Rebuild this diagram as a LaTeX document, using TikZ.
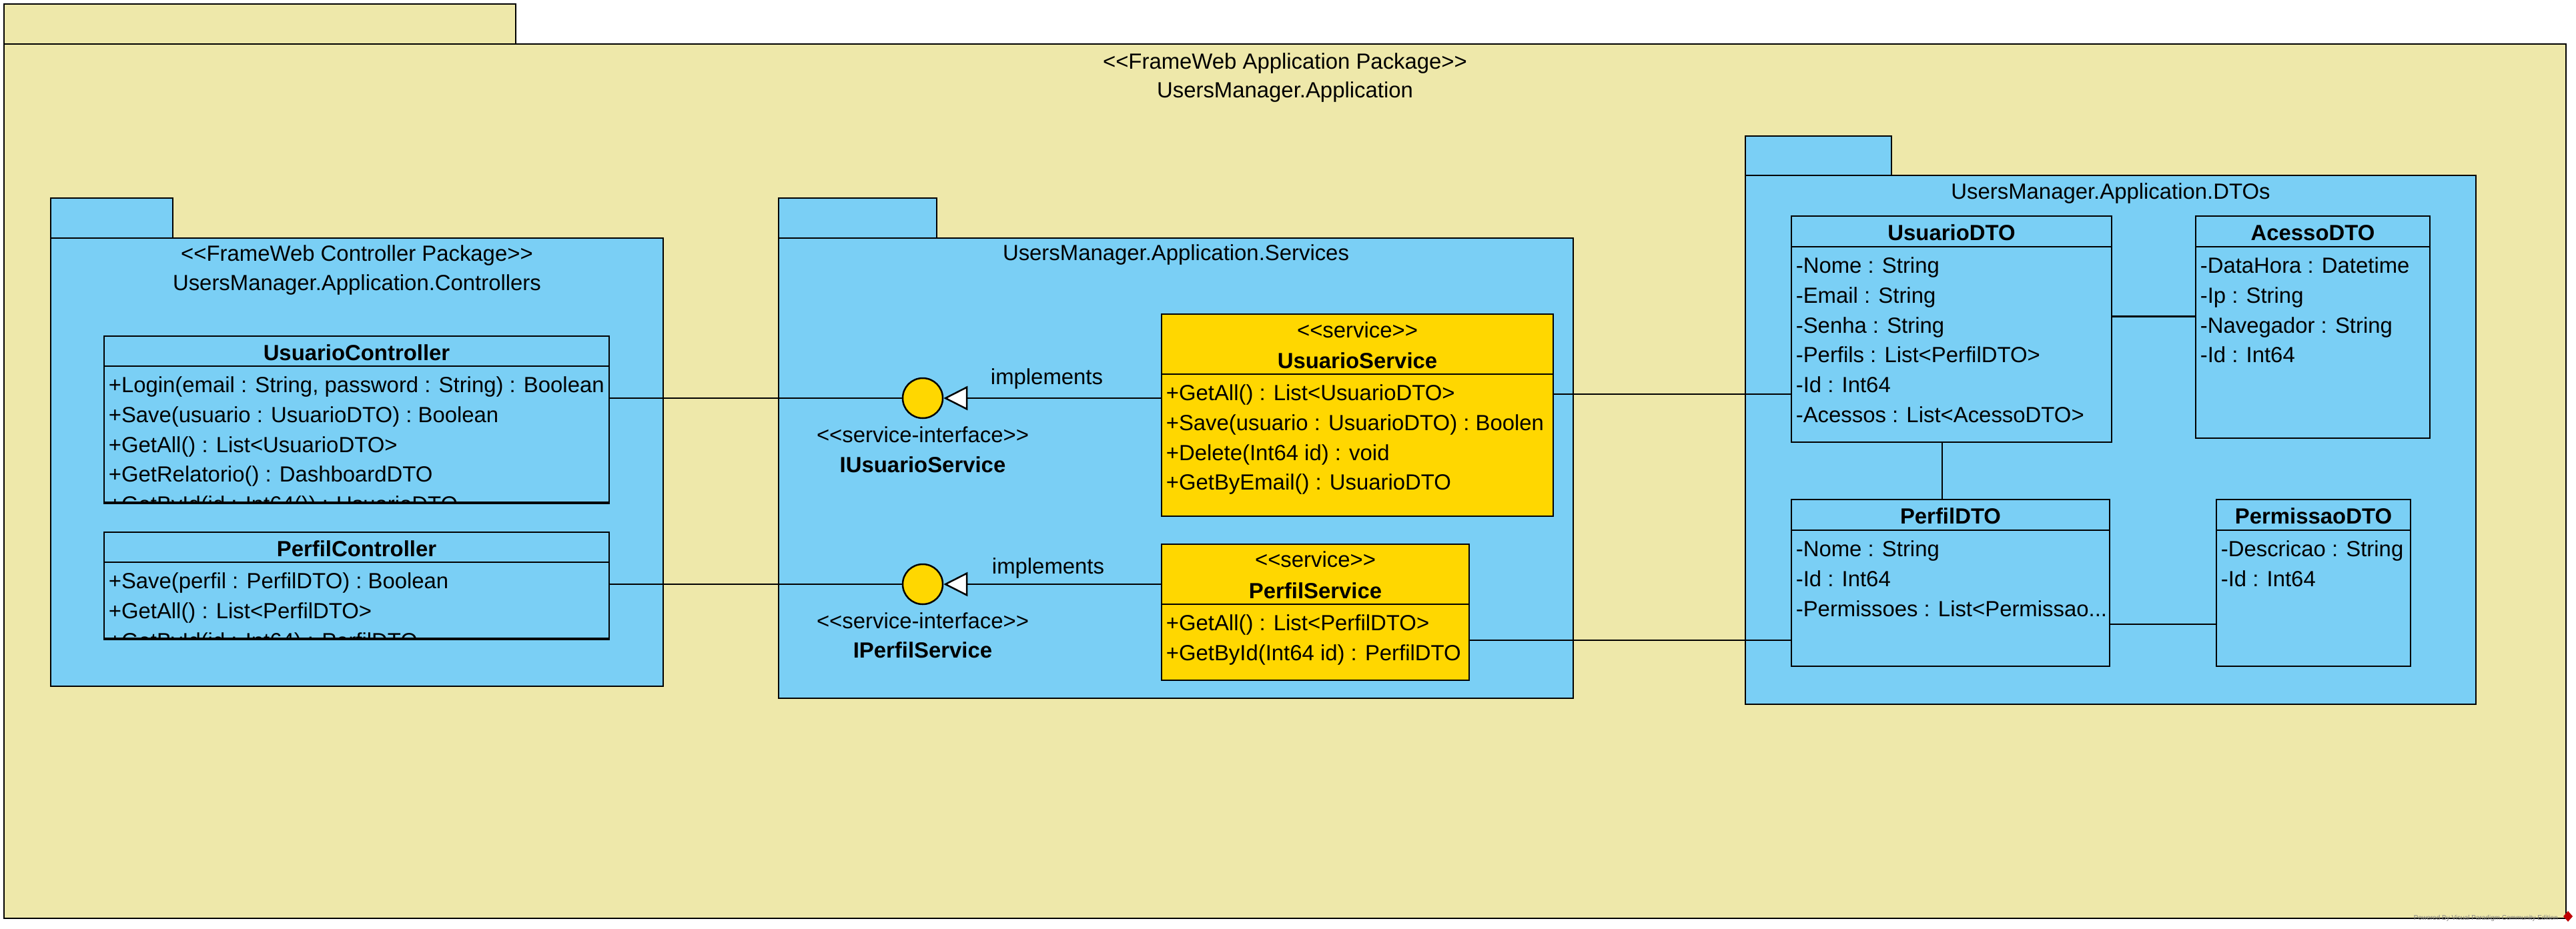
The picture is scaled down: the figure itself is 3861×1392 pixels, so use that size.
\documentclass[tikz,border=0pt]{standalone}
\usepackage{fontspec}
\newfontfamily\vpf{Liberation Sans}
\usetikzlibrary{fit,arrows.meta}
\definecolor{pkgback}{RGB}{238,232,170}
\definecolor{pkgblue}{RGB}{122,207,245}
\definecolor{svc}{RGB}{255,215,0}
\tikzset{
  ln/.style={line width=0.625pt},
  outerpkg/.style={draw, ln, fill=pkgback, inner sep=0pt},
  bluepkg/.style={draw, ln, fill=pkgblue, inner sep=0pt},
  clsbox/.style={draw, ln, fill=pkgblue, inner sep=0pt},
  svcbox/.style={draw, ln, fill=svc, inner sep=0pt},
  txt/.style={inner sep=0pt, font=\vpf\fontsize{8.22pt}{11.2pt}\selectfont},
  mem/.style={txt, anchor=base west},
  ctr/.style={txt, anchor=base},
  bname/.style={txt, anchor=base, font=\vpf\fontsize{8.22pt}{11.2pt}\selectfont\bfseries},
  iface/.style={circle, draw, ln, fill=svc, inner sep=0pt, minimum size=15pt},
  conn/.style={draw, ln},
  realize/.style={draw, ln, -{Triangle[length=9pt, width=9pt, fill=white]}},
}
\newcommand\memberlist[4]{%
  \foreach \t [count=\i from 0] in {#4} {\node[mem] (#1-m\i) at (#2, {#3+44.8*\i}) {\t};}}
\begin{document}
\begin{tikzpicture}[x=0.25pt, y=-0.25pt]
\useasboundingbox (0,0) rectangle (3861,1392);
\fill[white] (0,0) rectangle (3861,1392);

% ---------- outer application package ----------
\node[outerpkg, fit={(6,6) (773,66)}] (apptab) {};
\node[outerpkg, fit={(6,66) (3846,1377)}] (app) {};
\node[ctr] (appst) at (1926,103.5) {<<FrameWeb Application Package>>};
\node[ctr] (appname) at (1926,146) {UsersManager.Application};

% ---------- controllers package ----------
\node[bluepkg, fit={(76,297) (259,357)}] (ctrltab) {};
\node[bluepkg, fit={(76,357) (994,1029)}] (ctrl) {};
\node[ctr] (ctrlst) at (535,391.5) {<<FrameWeb Controller Package>>};
\node[ctr] (ctrlname) at (535,435.5) {UsersManager.Application.Controllers};

% UsuarioController
\node[clsbox, fit={(156,504) (913,753)}] (uc) {};
\draw[ln] (uc.west |- 0,549) -- (uc.east |- 0,549);
\node[bname] (ucn) at (534.5,540) {UsuarioController};
\memberlist{uc}{162}{588.5}{{+Login(email : String, password : String) : Boolean},{+Save(usuario : UsuarioDTO) : Boolean},{+GetAll() : List<UsuarioDTO>},{+GetRelatorio() : DashboardDTO}}
\begin{scope}
  \clip (156,549) rectangle (913,753);
  \node[mem] (uc-m4) at (162,767.7) {+GetById(id : Int64()) : UsuarioDTO};
\end{scope}
\draw[ln] (uc.south west) -- (uc.south east);

% PerfilController
\node[clsbox, fit={(156,798) (913,957)}] (pc) {};
\draw[ln] (pc.west |- 0,843) -- (pc.east |- 0,843);
\node[bname] (pcn) at (534.5,834) {PerfilController};
\memberlist{pc}{162}{882.5}{{+Save(perfil : PerfilDTO) : Boolean},{+GetAll() : List<PerfilDTO>}}
\begin{scope}
  \clip (156,843) rectangle (913,957);
  \node[mem] (pc-m2) at (162,972.1) {+GetById(id : Int64) : PerfilDTO};
\end{scope}
\draw[ln] (pc.south west) -- (pc.south east);

% ---------- services package ----------
\node[bluepkg, fit={(1167,297) (1404,357)}] (svctab) {};
\node[bluepkg, fit={(1167,357) (2358,1047)}] (svcpkg) {};
\node[ctr] (svcname) at (1762.5,390.5) {UsersManager.Application.Services};

% UsuarioService
\node[svcbox, fit={(1741,471) (2328,774)}] (us) {};
\draw[ln] (us.west |- 0,561) -- (us.east |- 0,561);
\node[ctr] (usst) at (2034.5,506) {<<service>>};
\node[bname] (usn) at (2034.5,552) {UsuarioService};
\memberlist{us}{1747}{600.5}{{+GetAll() : List<UsuarioDTO>},{+Save(usuario : UsuarioDTO) : Boolen},{+Delete(Int64 id) : void},{+GetByEmail() : UsuarioDTO}}

% PerfilService
\node[svcbox, fit={(1741,816) (2202,1020)}] (ps) {};
\draw[ln] (ps.west |- 0,906) -- (ps.east |- 0,906);
\node[ctr] (psst) at (1971.5,850.5) {<<service>>};
\node[bname] (psn) at (1971.5,897) {PerfilService};
\memberlist{ps}{1747}{945.5}{{+GetAll() : List<PerfilDTO>},{+GetById(Int64 id) : PerfilDTO}}

% interfaces
\node[iface] (i1) at (1383,597) {};
\node[ctr] (i1st) at (1383,663) {<<service-interface>>};
\node[bname] (i1n) at (1383,708) {IUsuarioService};
\node[iface] (i2) at (1383,876) {};
\node[ctr] (i2st) at (1383,942) {<<service-interface>>};
\node[bname] (i2n) at (1383,986) {IPerfilService};

\draw[realize] (us.west |- i1) -- (i1.east);
\node[ctr] (impl1) at (1569,576) {implements};
\draw[realize] (ps.west |- i2) -- (i2.east);
\node[ctr] (impl2) at (1571,860) {implements};

\draw[conn] (uc.east |- i1) -- (i1.west);
\draw[conn] (pc.east |- i2) -- (i2.west);

% ---------- DTOs package ----------
\node[bluepkg, fit={(2616,204) (2835,263)}] (dtotab) {};
\node[bluepkg, fit={(2616,263) (3711,1056)}] (dto) {};
\node[ctr] (dtoname) at (3163.5,298) {UsersManager.Application.DTOs};

% UsuarioDTO
\node[clsbox, fit={(2685,324) (3165,663)}] (ud) {};
\draw[ln] (ud.west |- 0,370) -- (ud.east |- 0,370);
\node[bname] (udn) at (2925,360) {UsuarioDTO};
\memberlist{ud}{2691}{409.5}{{-Nome : String},{-Email : String},{-Senha : String},{-Perfils : List<PerfilDTO>},{-Id : Int64},{-Acessos : List<AcessoDTO>}}

% AcessoDTO
\node[clsbox, fit={(3291,324) (3642,657)}] (ad) {};
\draw[ln] (ad.west |- 0,370) -- (ad.east |- 0,370);
\node[bname] (adn) at (3466.5,360) {AcessoDTO};
\memberlist{ad}{3297}{409.5}{{-DataHora : Datetime},{-Ip : String},{-Navegador : String},{-Id : Int64}}

% PerfilDTO
\node[clsbox, fit={(2685,749) (3162,999)}] (pd) {};
\draw[ln] (pd.west |- 0,795) -- (pd.east |- 0,795);
\node[bname] (pdn) at (2923.5,785) {PerfilDTO};
\memberlist{pd}{2691}{834.5}{{-Nome : String},{-Id : Int64}}
\node[mem] (pd-m2) at (2691,924.1) {-Permissoes : List<Permissao...};

% PermissaoDTO
\node[clsbox, fit={(3322,749) (3613,999)}] (pm) {};
\draw[ln] (pm.west |- 0,795) -- (pm.east |- 0,795);
\node[bname] (pmn) at (3467.5,785) {PermissaoDTO};
\memberlist{pm}{3328}{834.5}{{-Descricao : String},{-Id : Int64}}

% ---------- associations ----------
\draw[conn] (us.east |- 0,591) -- (ud.west |- 0,591);
\draw[conn] (ps.east |- 0,960) -- (pd.west |- 0,960);
\draw[conn] (ud.east |- 0,474.5) -- (ad.west |- 0,474.5);
\draw[conn] (ud.south -| 2911,0) -- (pd.north -| 2911,0);
\draw[conn] (pd.east |- 0,936) -- (pm.west |- 0,936);

% ---------- watermark ----------
\node[txt, anchor=base west, text=black!50, font=\vpf\fontsize{2.5pt}{3pt}\selectfont] (wm) at (3617,1379) {Powered By Visual Paradigm Community Edition};
\fill[red!75!black] (3849,1366) -- (3856,1374) -- (3849,1382) -- (3842,1374) -- cycle;
\end{tikzpicture}
\end{document}
